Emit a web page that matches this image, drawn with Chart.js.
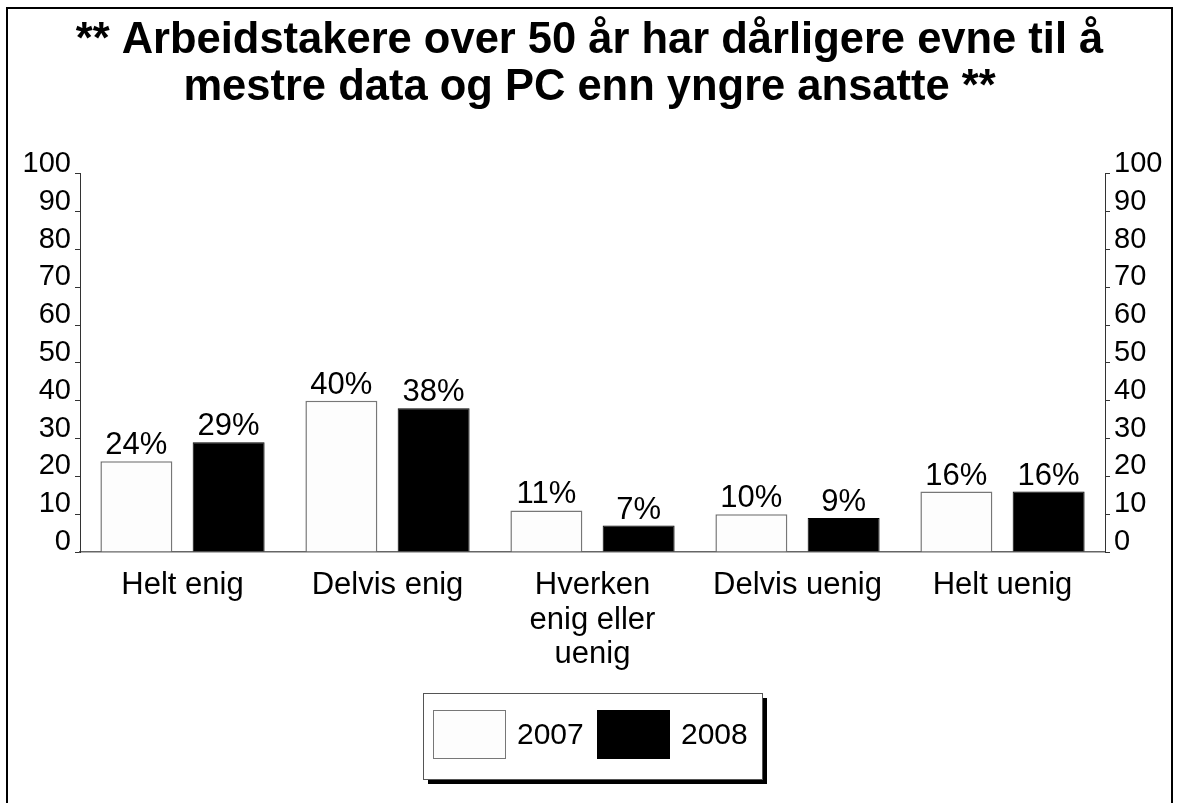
<!DOCTYPE html>
<html>
<head>
<meta charset="utf-8">
<script src="https://cdn.jsdelivr.net/npm/chart.js@4/dist/chart.umd.min.js"></script>
<style>
  html, body { margin: 0; padding: 0; background: #fff; }
  #wrap { width: 1179px; height: 803px; position: relative; }
</style>
</head>
<body>
<div id="wrap"><canvas id="chart"></canvas></div>
<script>
// --- data ---
const categories = ["Helt enig", "Delvis enig", ["Hverken", "enig eller", "uenig"], "Delvis uenig", "Helt uenig"];
const values2007 = [24, 40, 11, 10, 16];
const values2008 = [29, 38, 7, 9, 16];
const seriesNames = ["2007", "2008"];
const titleLines = ["** Arbeidstakere over 50 år har dårligere evne til å", "mestre data og PC enn yngre ansatte **"];

const FONT = "Arial, 'Liberation Sans', sans-serif";

// ramme rundt hele bildet
const framePlugin = {
  id: "frame",
  beforeDraw(chart) {
    const c = chart.ctx;
    c.save();
    c.fillStyle = "#fff";
    c.fillRect(0, 0, chart.width, chart.height);
    c.strokeStyle = "#000";
    c.lineWidth = 2;
    c.strokeRect(7, 8, chart.width - 14, chart.height + 20);
    c.restore();
  }
};

// verdier over stolpene
const valueLabels = {
  id: "valueLabels",
  afterDatasetsDraw(chart) {
    const c = chart.ctx;
    c.save();
    c.font = "31px " + FONT;
    c.fillStyle = "#000";
    c.textAlign = "center";
    c.textBaseline = "bottom";
    chart.data.datasets.forEach((ds, i) => {
      chart.getDatasetMeta(i).data.forEach((bar, j) => {
        c.fillText(ds.data[j] + "%", bar.x, bar.y);
      });
    });
    c.restore();
  }
};

// forklaring med skygge
const boxLegend = {
  id: "boxLegend",
  afterDraw(chart) {
    const c = chart.ctx;
    const area = chart.chartArea;
    const cx = (area.left + area.right) / 2;
    const w = 339, h = 86;
    const x = Math.round(cx - w / 2), y = 693;
    c.save();
    c.fillStyle = "#000";
    c.fillRect(x + 5, y + 5, w, h);
    c.fillStyle = "#fff";
    c.fillRect(x, y, w, h);
    c.strokeStyle = "#555";
    c.lineWidth = 1;
    c.strokeRect(x + 0.5, y + 0.5, w, h);
    c.font = "30px " + FONT;
    c.textBaseline = "middle";
    c.textAlign = "left";
    let px = x + 10;
    chart.data.datasets.forEach(ds => {
      c.fillStyle = ds.backgroundColor;
      c.fillRect(px, y + 17, 72, 48);
      c.strokeStyle = ds.borderColor;
      c.strokeRect(px + 0.5, y + 17.5, 72, 48);
      c.fillStyle = "#000";
      c.fillText(ds.label, px + 84, y + 43);
      px += 164;
    });
    c.restore();
  }
};

const yTicks = { color: "#000", font: { family: FONT, size: 29 }, stepSize: 10, padding: 4, labelOffset: -10 };

new Chart(document.getElementById("chart"), {
  type: "bar",
  data: {
    labels: categories,
    datasets: [
      { label: seriesNames[0], data: values2007, backgroundColor: "#fdfdfd", borderColor: "#777", borderWidth: 1.5,
        categoryPercentage: 0.9, barPercentage: 0.78 },
      { label: seriesNames[1], data: values2008, backgroundColor: "#000", borderColor: "#000", borderWidth: 1,
        categoryPercentage: 0.9, barPercentage: 0.78 }
    ]
  },
  options: {
    responsive: true,
    maintainAspectRatio: false,
    animation: false,
    layout: { padding: 0 },
    plugins: {
      legend: { display: false },
      tooltip: { enabled: false },
      title: {
        display: true,
        text: titleLines,
        color: "#000",
        font: { family: FONT, size: 43.5, weight: "bold", lineHeight: 1.08 },
        padding: { top: 18, bottom: 62 }
      }
    },
    scales: {
      x: {
        grid: { display: false },
        border: { display: true, color: "#666", width: 1.5 },
        ticks: { color: "#000", font: { family: FONT, size: 31, lineHeight: 1.12 }, padding: 8, maxRotation: 0, autoSkip: false },
        afterFit(s) { s.height = 251; }
      },
      y: {
        position: "left",
        min: 0, max: 100,
        grid: { drawOnChartArea: false, tickLength: 5, color: "#333" },
        border: { display: true, color: "#333", width: 1 },
        ticks: yTicks,
        afterFit(s) { s.width = 80; }
      },
      y2: {
        position: "right",
        min: 0, max: 100,
        grid: { drawOnChartArea: false, tickLength: 5, color: "#333" },
        border: { display: true, color: "#333", width: 1 },
        ticks: yTicks,
        afterFit(s) { s.width = 74; }
      }
    }
  },
  plugins: [framePlugin, valueLabels, boxLegend]
});
</script>
</body>
</html>
